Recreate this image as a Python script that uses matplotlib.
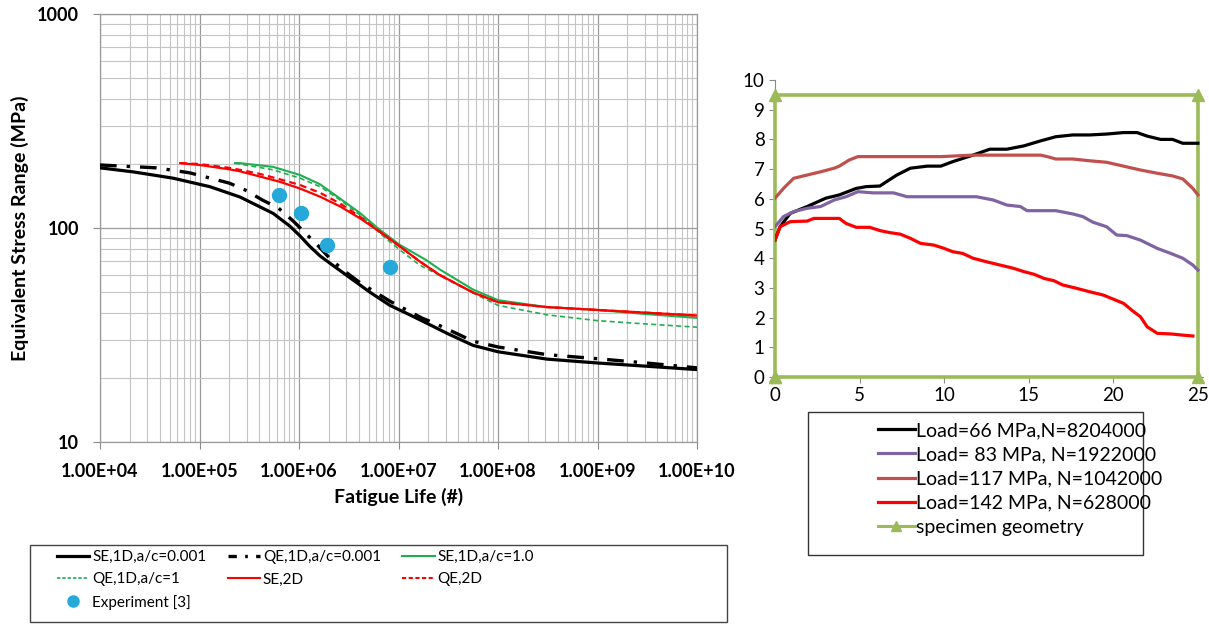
import matplotlib
matplotlib.use("Agg")
import matplotlib.pyplot as plt
from matplotlib.patches import Rectangle
from matplotlib.lines import Line2D
import numpy as np

plt.rcParams['font.family'] = ['Lato', 'DejaVu Sans']

# ---------------- Left chart data (S-N curves) ----------------
se1d_001_N = [1e4, 2.14e4, 5.4e4, 1.27e5, 2.55e5, 5.5e5, 8.1e5, 1.02e6, 1.29e6, 1.63e6, 2.05e6,
              3.26e6, 5.2e6, 8.2e6, 1.31e7, 2.07e7, 3.07e7, 5.6e7, 1e8, 3.1e8, 1e9, 3.1e9, 1e10]
se1d_001_S = [191, 183, 171, 156, 139.6, 117, 102, 92, 81.9, 74, 68.4,
              58.5, 50, 43.5, 39.2, 35.3, 32.2, 28.3, 26.4, 24.4, 23.4, 22.6, 21.8]

qe1d_001_N = [1e4, 3.7e4, 8e4, 2e5, 2.87e5, 4.3e5, 6.2e5, 8.7e5, 1.15e6, 1.56e6, 2.05e6, 2.79e6,
              3.94e6, 5.58e6, 8.2e6, 1.16e7, 1.71e7, 2.4e7, 5.6e7, 1e8, 3.1e8, 1e9, 3.1e9, 1e10]
qe1d_001_S = [197, 191, 181, 162, 150.6, 135, 124, 108, 95, 82.5, 72, 63.5,
              56.3, 50.8, 45.5, 41.8, 38, 35.6, 29.6, 27.8, 25.6, 24.5, 23.4, 22.2]

se1d_1_N = [2.27e5, 2.55e5, 5.5e5, 1.02e6, 1.63e6, 2.6e6, 4.1e6, 6.5e6, 1.03e7, 1.9e7, 2.6e7,
            5.6e7, 1e8, 3.1e8, 1e9, 3.1e9, 1e10]
se1d_1_S = [201, 201, 193, 177, 160, 137, 117.5, 98, 83.4, 70.8, 64,
            51.6, 46, 42.7, 41.4, 39.6, 38]

qe1d_1_N = [2.27e5, 2.55e5, 5.5e5, 1.02e6, 1.63e6, 2.6e6, 4.1e6, 6.5e6, 1.03e7, 1.64e7, 2.6e7,
            5.6e7, 1e8, 3.1e8, 1e9, 3.1e9, 1e10]
qe1d_1_S = [201, 199, 187, 171, 156, 135, 115, 94.5, 79, 67, 60,
            49.7, 43.5, 39.3, 36.9, 35.6, 34.4]

se2d_N = [6.4e4, 1e5, 2e5, 2.55e5, 4.04e5, 6.4e5, 1.02e6, 1.63e6, 2.6e6, 4.1e6, 6.5e6, 1.03e7,
          1.64e7, 2.6e7, 5.6e7, 1e8, 3.1e8, 1e9, 3.1e9, 1e10]
se2d_S = [201, 197, 188, 184, 174, 164.5, 153, 140, 126, 111, 96, 82,
          69.7, 60.3, 50, 45, 42.7, 41.4, 40.2, 39]

qe2d_N = [6.4e4, 1e5, 2e5, 2.55e5, 4.04e5, 6.4e5, 1.02e6, 1.63e6, 2.6e6, 4.1e6, 6.5e6, 1.03e7,
          1.64e7, 2.6e7, 5.6e7, 1e8, 3.1e8, 1e9, 3.1e9, 1e10]
qe2d_S = [201, 199, 191, 187, 179, 169, 159, 146, 130, 113, 96, 82,
          69.7, 60.3, 50, 45, 42.7, 41.4, 40.2, 39]

exp_N = [628000, 1042000, 1922000, 8204000]
exp_S = [142, 117, 83, 66]

x_ticks = [1e4, 1e5, 1e6, 1e7, 1e8, 1e9, 1e10]
x_tick_labels = ["1.00E+04", "1.00E+05", "1.00E+06", "1.00E+07", "1.00E+08", "1.00E+09", "1.00E+10"]
y_ticks = [10, 100, 1000]
y_tick_labels = ["10", "100", "1000"]

left_labels = ["SE,1D,a/c=0.001", "QE,1D,a/c=0.001", "SE,1D,a/c=1.0",
               "QE,1D,a/c=1", "SE,2D", "QE,2D", "Experiment [3]"]

# ---------------- Right chart data ----------------
load66_x = [0, 0.3, 0.9, 1.9, 3, 3.8, 4.8, 5.4, 6.2, 6.6, 7.2, 8, 9, 9.8, 10.5, 11.7, 12.7,
            13.7, 14.7, 15.7, 16.6, 17.6, 18.6, 19.6, 20.6, 21.4, 22, 22.8, 23.5, 24.1, 25]
load66_y = [4.61, 5.06, 5.51, 5.74, 6.02, 6.13, 6.35, 6.41, 6.43, 6.58, 6.80, 7.03, 7.10, 7.10,
            7.25, 7.47, 7.67, 7.67, 7.78, 7.95, 8.09, 8.15, 8.15, 8.18, 8.23, 8.23, 8.11, 8.0,
            8.0, 7.87, 7.87]

load83_x = [0, 0.5, 1.1, 1.9, 2.7, 3.5, 4.2, 4.9, 5.8, 7.0, 7.8, 9.8, 11.9, 12.9, 13.7, 14.5,
            14.9, 16.6, 17.6, 18.2, 18.8, 19.6, 20.2, 20.8, 21.6, 22.6, 23.4, 24.1, 24.7, 25]
load83_y = [5.06, 5.4, 5.57, 5.68, 5.74, 5.96, 6.07, 6.24, 6.2, 6.2, 6.07, 6.07, 6.07, 5.96,
            5.79, 5.74, 5.6, 5.6, 5.49, 5.4, 5.21, 5.06, 4.78, 4.76, 4.61, 4.33, 4.16, 4.0,
            3.77, 3.6]

load117_x = [0, 0.5, 1.1, 1.9, 2.7, 3.5, 3.8, 4.4, 4.9, 5.8, 9.8, 11.7, 15.7, 16.1, 16.6,
             17.6, 18.6, 19.6, 20.6, 21.6, 22.6, 23.5, 24.1, 24.7, 25]
load117_y = [6.02, 6.35, 6.69, 6.8, 6.91, 7.03, 7.10, 7.31, 7.42, 7.42, 7.42, 7.47, 7.47, 7.42,
             7.34, 7.34, 7.28, 7.23, 7.10, 6.97, 6.86, 6.77, 6.67, 6.35, 6.13]

load142_x = [0, 0.3, 0.9, 1.9, 2.3, 3.8, 4.2, 4.8, 5.6, 6.2, 6.8, 7.4, 8.0, 8.6, 9.4, 10.0,
             10.5, 11.1, 11.7, 12.5, 13.3, 14.1, 14.7, 15.3, 15.9, 16.5, 17.0, 17.8, 18.6,
             19.4, 20.0, 20.6, 21.2, 21.6, 22.0, 22.6, 23.4, 24.1, 24.7]
load142_y = [4.61, 5.06, 5.23, 5.25, 5.34, 5.34, 5.17, 5.04, 5.04, 4.93, 4.86, 4.81, 4.67,
             4.5, 4.44, 4.33, 4.22, 4.16, 4.0, 3.88, 3.77, 3.66, 3.55, 3.46, 3.32, 3.24, 3.10,
             2.99, 2.87, 2.76, 2.62, 2.48, 2.2, 2.03, 1.69, 1.47, 1.45, 1.41, 1.38]

geom_x = [0, 0, 25, 25, 0]
geom_y = [0, 9.5, 9.5, 0, 0]

right_labels = ["Load=66 MPa,N=8204000", "Load= 83 MPa, N=1922000",
                "Load=117 MPa, N=1042000", "Load=142 MPa, N=628000", "specimen geometry"]

# ---------------- Figure ----------------
W, H = 1209, 627
fig = plt.figure(figsize=(W / 100, H / 100), dpi=100)
fig.patch.set_facecolor('white')

def fx(px):
    return px / W

def fy(py):
    return 1 - py / H

# Left axes
ax = fig.add_axes([fx(100), fy(442), fx(697) - fx(100), fy(14) - fy(442)])
ax.set_xscale('log')
ax.set_yscale('log')
ax.set_xlim(1e4, 1e10)
ax.set_ylim(10, 1000)

green = '#1FAF50'
red = '#FF0000'
cyan = '#26A9D8'
ax.plot(se1d_001_N, se1d_001_S, color='black', lw=2.3, zorder=5)
ax.plot(qe1d_001_N, qe1d_001_S, color='black', lw=2.4, dashes=[5, 3, 1, 3], zorder=5)
ax.plot(se1d_1_N, se1d_1_S, color=green, lw=1.5, zorder=5)
ax.plot(qe1d_1_N, qe1d_1_S, color=green, lw=1.2, dashes=[3, 2], zorder=5)
ax.plot(se2d_N, se2d_S, color=red, lw=1.6, zorder=6)
ax.plot(qe2d_N, qe2d_S, color=red, lw=1.6, dashes=[3, 2], zorder=6)
ax.plot(exp_N, exp_S, ls='none', marker='o', ms=10, color=cyan, mec=cyan, zorder=7)

ax.grid(True, which='major', color='#9a9a9a', lw=0.9)
ax.grid(True, which='minor', color='#c4c4c4', lw=0.8)
ax.set_xticks(x_ticks)
ax.set_xticklabels(x_tick_labels)
ax.set_yticks(y_ticks)
ax.set_yticklabels(y_tick_labels)
ax.tick_params(which='major', length=5, color='#8a8a8a', labelsize=13, pad=10)
ax.tick_params(which='minor', length=0)
ax.xaxis.set_minor_formatter(matplotlib.ticker.NullFormatter())
ax.yaxis.set_minor_formatter(matplotlib.ticker.NullFormatter())
for lab in ax.get_xticklabels() + ax.get_yticklabels():
    lab.set_fontweight('bold')
for s in ax.spines.values():
    s.set_color('#9a9a9a')
    s.set_linewidth(0.9)
ax.set_xlabel('Fatigue Life (#)', fontsize=14, fontweight='bold', labelpad=6)
ax.set_ylabel('Equivalent Stress Range (MPa)', fontsize=14, fontweight='bold', labelpad=6)

# Left legend (frame drawn separately)
fig.patches.append(Rectangle((fx(30), fy(622)), fx(727) - fx(30), fy(545) - fy(622),
                             transform=fig.transFigure, fill=False, edgecolor='#444444', lw=1.0))
lh_se001 = Line2D([], [], color='black', lw=2.3)
lh_qe001 = Line2D([], [], color='black', lw=2.4, dashes=[2.5, 2.5, 0.8, 2.5])
lh_se1 = Line2D([], [], color=green, lw=1.5)
lh_qe1 = Line2D([], [], color=green, lw=1.2, dashes=[2, 1.2])
lh_se2d = Line2D([], [], color=red, lw=1.5)
lh_qe2d = Line2D([], [], color=red, lw=1.5, dashes=[2, 1.2])
lh_exp = Line2D([], [], ls='none', marker='o', ms=8, color=cyan)
lhandles = {0: lh_se001, 1: lh_qe001, 2: lh_se1, 3: lh_qe1, 4: lh_se2d, 5: lh_qe2d, 6: lh_exp}
order = [0, 3, 6, 1, 4, 2, 5]   # row-major layout in a column-major legend
fig.legend([lhandles[i] for i in order], [left_labels[i] for i in order], ncol=3,
           loc='upper left', bbox_to_anchor=(fx(57), fy(550)), frameon=False,
           fontsize=11, handlelength=2.1, handletextpad=0.2, labelspacing=0.55,
           columnspacing=1.4, borderpad=0, borderaxespad=0)

# Right axes
ax2 = fig.add_axes([fx(775), fy(377), fx(1203) - fx(775), fy(80) - fy(377)])
ax2.set_xlim(0, 25.3)
ax2.set_ylim(0, 10)
c66, c83, c117, c142, cg = 'black', '#8064A2', '#C0504D', '#FF0000', '#9BBB59'
l1, = ax2.plot(load66_x, load66_y, color=c66, lw=2.3, zorder=4)
l2, = ax2.plot(load83_x, load83_y, color=c83, lw=2.3, zorder=4)
l3, = ax2.plot(load117_x, load117_y, color=c117, lw=2.3, zorder=4)
l4, = ax2.plot(load142_x, load142_y, color=c142, lw=2.3, zorder=4)
ax2.plot(geom_x, geom_y, color=cg, lw=2.6, marker='^', ms=8, zorder=3, clip_on=False)
ax2.set_xticks([0, 5, 10, 15, 20, 25])
ax2.set_yticks(range(0, 11))
ax2.tick_params(length=4, color='#8a8a8a', labelsize=13.5)
ax2.spines['top'].set_visible(False)
ax2.spines['right'].set_visible(False)
for s in ('left', 'bottom'):
    ax2.spines[s].set_color('#8a8a8a')

# Right legend (frame drawn separately)
fig.patches.append(Rectangle((fx(808), fy(555)), fx(1143) - fx(808), fy(412) - fy(555),
                             transform=fig.transFigure, fill=False, edgecolor='#333333', lw=1.0))
h5 = Line2D([], [], color=cg, lw=2.2, marker='^', ms=7)
fig.legend([l1, l2, l3, l4, h5], right_labels, loc='upper left',
           bbox_to_anchor=(fx(878), fy(422)), frameon=False, fontsize=14,
           handlelength=1.9, handletextpad=0.05, labelspacing=0.37, borderpad=0, borderaxespad=0)

fig.savefig('out.png', dpi=100, facecolor='white')
